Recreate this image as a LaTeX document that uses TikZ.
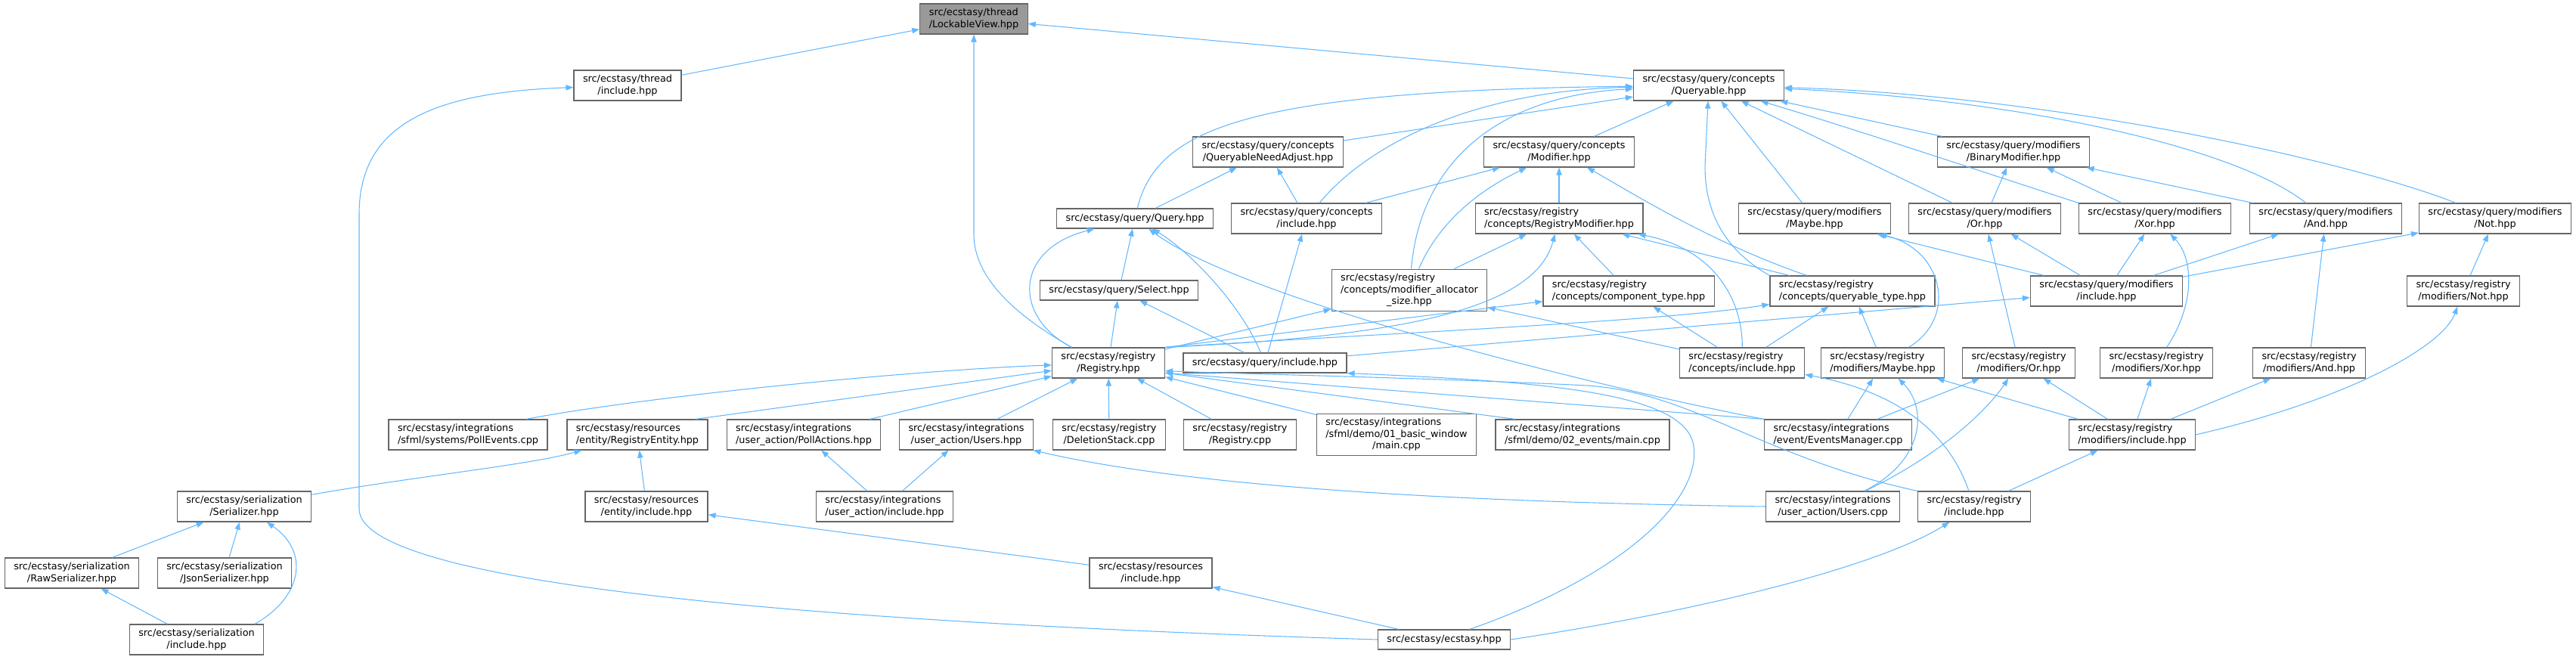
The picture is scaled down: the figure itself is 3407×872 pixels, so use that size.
\documentclass[tikz,border=0pt]{standalone}
\usepackage{fontspec}
\setmainfont{DejaVu Sans}
\usepackage{tikz}
\usetikzlibrary{arrows.meta,positioning}
\definecolor{steel}{HTML}{63B8FF}
\definecolor{boxline}{HTML}{666666}
\definecolor{rootfill}{HTML}{999999}
\newcommand{\flbl}[2]{\begin{tabular}{@{}l@{}}#1\\\multicolumn{1}{@{}c@{}}{#2}\end{tabular}}

\begin{document}
\begin{tikzpicture}[x=0.75pt,y=-0.75pt,
        srcbox/.style={draw=boxline,fill=white,line width=0.9pt,inner xsep=9pt,inner ysep=3.2pt,
              minimum height=19.5pt,font=\fontsize{9.6}{11.8}\selectfont},
        incl/.style={draw=steel,line width=0.8pt,-{Triangle[length=7.5pt,width=5.5pt]}}]
        \useasboundingbox (0,0) rectangle (3407,872);

        \node[srcbox,fill=rootfill] (lock) at (1288,25) {\flbl{src/ecstasy/thread}{/LockableView.hpp}};
        \node[srcbox] (thr) at (830,113) {\flbl{src/ecstasy/thread}{/include.hpp}};
        \node[srcbox] (qable) at (2260,113) {\flbl{src/ecstasy/query/concepts}{/Queryable.hpp}};

        \node[srcbox] (qna) at (1677,201) {\flbl{src/ecstasy/query/concepts}{/QueryableNeedAdjust.hpp}};
        \node[srcbox] (modi) at (2062,201) {\flbl{src/ecstasy/query/concepts}{/Modifier.hpp}};
        \node[srcbox] (binm) at (2663,201) {\flbl{src/ecstasy/query/modifiers}{/BinaryModifier.hpp}};

        \node[srcbox] (query) at (1501,289) {src/ecstasy/query/Query.hpp};
        \node[srcbox] (qcinc) at (1728,289) {\flbl{src/ecstasy/query/concepts}{/include.hpp}};
        \node[srcbox] (regmod) at (2062,289) {\flbl{src/ecstasy/registry}{/concepts/RegistryModifier.hpp}};
        \node[srcbox] (qmaybe) at (2400,289) {\flbl{src/ecstasy/query/modifiers}{/Maybe.hpp}};
        \node[srcbox] (qor) at (2625,289) {\flbl{src/ecstasy/query/modifiers}{/Or.hpp}};
        \node[srcbox] (qxor) at (2850,289) {\flbl{src/ecstasy/query/modifiers}{/Xor.hpp}};
        \node[srcbox] (qand) at (3076,289) {\flbl{src/ecstasy/query/modifiers}{/And.hpp}};
        \node[srcbox] (qnot) at (3300,289) {\flbl{src/ecstasy/query/modifiers}{/Not.hpp}};

        \node[srcbox] (select) at (1480,384) {src/ecstasy/query/Select.hpp};
        \node[srcbox] (modalloc) at (1864,384) {\flbl{src/ecstasy/registry\\/concepts/modifier\_allocator}{\_size.hpp}};
        \node[srcbox] (comptype) at (2154,385) {\flbl{src/ecstasy/registry}{/concepts/component\_type.hpp}};
        \node[srcbox] (qtype) at (2450,385) {\flbl{src/ecstasy/registry}{/concepts/queryable\_type.hpp}};
        \node[srcbox] (qminc) at (2786,385) {\flbl{src/ecstasy/query/modifiers}{/include.hpp}};
        \node[srcbox] (rnot) at (3258,385) {\flbl{src/ecstasy/registry}{/modifiers/Not.hpp}};

        \node[srcbox] (registry) at (1466,480) {\flbl{src/ecstasy/registry}{/Registry.hpp}};
        \node[srcbox] (qinc) at (1673,480) {src/ecstasy/query/include.hpp};
        \node[srcbox] (rcinc) at (2304,480) {\flbl{src/ecstasy/registry}{/concepts/include.hpp}};
        \node[srcbox] (rmaybe) at (2490,480) {\flbl{src/ecstasy/registry}{/modifiers/Maybe.hpp}};
        \node[srcbox] (ror) at (2670,480) {\flbl{src/ecstasy/registry}{/modifiers/Or.hpp}};
        \node[srcbox] (rxor) at (2852,480) {\flbl{src/ecstasy/registry}{/modifiers/Xor.hpp}};
        \node[srcbox] (rand) at (3054,480) {\flbl{src/ecstasy/registry}{/modifiers/And.hpp}};

        \node[srcbox] (pollev) at (619,575) {\flbl{src/ecstasy/integrations}{/sfml/systems/PollEvents.cpp}};
        \node[srcbox] (regent) at (843,575) {\flbl{src/ecstasy/resources}{/entity/RegistryEntity.hpp}};
        \node[srcbox] (pollact) at (1063,575) {\flbl{src/ecstasy/integrations}{/user\_action/PollActions.hpp}};
        \node[srcbox] (usershpp) at (1278,575) {\flbl{src/ecstasy/integrations}{/user\_action/Users.hpp}};
        \node[srcbox] (delstack) at (1467,575) {\flbl{src/ecstasy/registry}{/DeletionStack.cpp}};
        \node[srcbox] (regcpp) at (1640,575) {\flbl{src/ecstasy/registry}{/Registry.cpp}};
        \node[srcbox] (demo1) at (1847,575) {\flbl{src/ecstasy/integrations\\/sfml/demo/01\_basic\_window}{/main.cpp}};
        \node[srcbox] (demo2) at (2093,575) {\flbl{src/ecstasy/integrations}{/sfml/demo/02\_events/main.cpp}};
        \node[srcbox] (evmgr) at (2431,575) {\flbl{src/ecstasy/integrations}{/event/EventsManager.cpp}};
        \node[srcbox] (rminc) at (2820,575) {\flbl{src/ecstasy/registry}{/modifiers/include.hpp}};

        \node[srcbox] (serial) at (323,670) {\flbl{src/ecstasy/serialization}{/Serializer.hpp}};
        \node[srcbox] (entinc) at (855,670) {\flbl{src/ecstasy/resources}{/entity/include.hpp}};
        \node[srcbox] (uainc) at (1170,670) {\flbl{src/ecstasy/integrations}{/user\_action/include.hpp}};
        \node[srcbox] (userscpp) at (2424,670) {\flbl{src/ecstasy/integrations}{/user\_action/Users.cpp}};
        \node[srcbox] (rinc) at (2611,670) {\flbl{src/ecstasy/registry}{/include.hpp}};

        \node[srcbox] (rawser) at (95,758) {\flbl{src/ecstasy/serialization}{/RawSerializer.hpp}};
        \node[srcbox] (jsonser) at (297,758) {\flbl{src/ecstasy/serialization}{/JsonSerializer.hpp}};
        \node[srcbox] (resinc) at (1522,758) {\flbl{src/ecstasy/resources}{/include.hpp}};

        \node[srcbox] (serinc) at (260,846) {\flbl{src/ecstasy/serialization}{/include.hpp}};
        \node[srcbox] (ecstasy) at (1910,846) {src/ecstasy/ecstasy.hpp};

        % top of the graph
        \draw[incl] (thr) -- (lock);
        \draw[incl] (qable) -- (lock);
        \draw[incl] (registry.157) .. controls (1330,410) and (1288,360) .. (1288,310) -- (lock);
        \draw[incl] (ecstasy.west) .. controls (1300,830) and (475,790) .. (475,673) -- (475,283)
              .. controls (475,160) and (580,122) .. (thr);

        \draw[incl] (qna) -- (qable);
        \draw[incl] (modi) -- (qable);
        \draw[incl] (binm) -- (qable);
        \draw[incl] (qmaybe) -- (qable);
        \draw[incl] (qor) -- (qable);
        \draw[incl] (query) .. controls (1530,170) and (1650,120) .. (qable);
        \draw[incl] (qcinc) .. controls (1810,190) and (1950,120) .. (qable);
        \draw[incl] (modalloc) .. controls (1880,200) and (2000,125) .. (qable);
        \draw[incl] (qtype.north west) .. controls (2280,330) and (2255,280) .. (2255,220) -- (qable);
        \draw[incl] (qxor.north west) .. controls (2600,220) and (2450,170) .. (qable);
        \draw[incl] (qand) .. controls (2950,190) and (2650,130) .. (qable);
        \draw[incl] (qnot) .. controls (3100,210) and (2700,125) .. (qable);

        \draw[incl] (qor) -- (binm);
        \draw[incl] (qxor) -- (binm);
        \draw[incl] (qand) -- (binm);

        \draw[incl] (query) -- (qna);
        \draw[incl] (qcinc) -- (qna);
        \draw[incl] (qcinc) -- (modi);
        \draw[incl] (regmod) -- (modi);
        \draw[incl] (modalloc) .. controls (1905,290) and (1960,250) .. (modi);
        \draw[incl] (qtype) .. controls (2260,320) and (2150,250) .. (modi);

        \draw[incl] (modalloc) -- (regmod);
        \draw[incl] (comptype) -- (regmod);
        \draw[incl] (qtype) -- (regmod);
        \draw[incl] (rcinc) .. controls (2305,400) and (2270,330) .. (regmod);
        \draw[incl] (registry.north east) .. controls (1850,445) and (2030,410) .. (regmod);

        % query and registry
        \draw[incl] (registry.157) .. controls (1340,420) and (1340,330) .. (query);
        \draw[incl] (registry) -- (select);
        \draw[incl] (registry) -- (modalloc);
        \draw[incl] (registry.north east) -- (comptype);
        \draw[incl] (registry.north east) .. controls (1850,440) and (2200,425) .. (qtype);
        \draw[incl] (select) -- (query);
        \draw[incl] (qinc) -- (select);
        \draw[incl] (qinc) .. controls (1640,400) and (1570,330) .. (query);
        \draw[incl] (qinc) -- (qcinc);
        \draw[incl] (qinc) -- (qminc);
        \draw[incl] (evmgr.north west) .. controls (2150,520) and (1650,400) .. (query);

        % modifiers
        \draw[incl] (qminc) -- (qmaybe);
        \draw[incl] (qminc) -- (qor);
        \draw[incl] (qminc) -- (qxor);
        \draw[incl] (qminc) -- (qand);
        \draw[incl] (qminc) -- (qnot);
        \draw[incl] (rmaybe) .. controls (2590,420) and (2570,330) .. (qmaybe);
        \draw[incl] (ror) -- (qor);
        \draw[incl] (rxor) .. controls (2905,400) and (2900,340) .. (qxor);
        \draw[incl] (rand) -- (qand);
        \draw[incl] (rnot) -- (qnot);
        \draw[incl] (rmaybe) -- (qtype);
        \draw[incl] (rcinc) -- (qtype);
        \draw[incl] (rcinc) -- (comptype);
        \draw[incl] (rcinc) -- (modalloc);

        \draw[incl] (rminc) -- (rmaybe);
        \draw[incl] (rminc) -- (ror);
        \draw[incl] (rminc) -- (rxor);
        \draw[incl] (rminc) -- (rand);
        \draw[incl] (rminc.east) .. controls (3100,530) and (3230,460) .. (rnot);
        \draw[incl] (rinc) -- (rminc);
        \draw[incl] (rinc) .. controls (2580,580) and (2520,520) .. (rcinc);
        \draw[incl] (evmgr) -- (rmaybe);
        \draw[incl] (evmgr) -- (ror);
        \draw[incl] (userscpp) .. controls (2545,610) and (2550,540) .. (rmaybe);
        \draw[incl] (userscpp) .. controls (2570,600) and (2630,540) .. (ror);

        % into Registry.hpp
        \draw[incl] (pollev.15) .. controls (850,525) and (1200,490) .. (registry);
        \draw[incl] (regent.15) -- (registry);
        \draw[incl] (pollact) -- (registry);
        \draw[incl] (usershpp) -- (registry);
        \draw[incl] (delstack) -- (registry);
        \draw[incl] (regcpp) -- (registry);
        \draw[incl] (demo1) -- (registry);
        \draw[incl] (demo2.167) -- (registry.-10);
        \draw[incl] (evmgr.north west) -- (registry.-10);
        \draw[incl] (rinc.north west) .. controls (2330,605) and (2240,520) .. (2100,510)
              .. controls (1900,500) and (1650,495) .. (registry.-8);

        % bottom part
        \draw[incl] (ecstasy.22) .. controls (2150,760) and (2250,660) .. (2240,590)
              .. controls (2230,520) and (2050,505) .. (qinc.south east);
        \draw[incl] (ecstasy.east) .. controls (2300,800) and (2500,740) .. (rinc);
        \draw[incl] (ecstasy) -- (resinc);
        \draw[incl] (resinc) -- (entinc);
        \draw[incl] (entinc) -- (regent);
        \draw[incl] (serial.10) .. controls (550,630) and (700,615) .. (regent);
        \draw[incl] (rawser) -- (serial);
        \draw[incl] (jsonser) -- (serial);
        \draw[incl] (serinc) -- (rawser);
        \draw[incl] (serinc.15) .. controls (400,790) and (410,730) .. (serial);
        \draw[incl] (uainc) -- (pollact);
        \draw[incl] (uainc) -- (usershpp);
        \draw[incl] (userscpp.west) .. controls (2000,665) and (1600,650) .. (usershpp);
\end{tikzpicture}
\end{document}
